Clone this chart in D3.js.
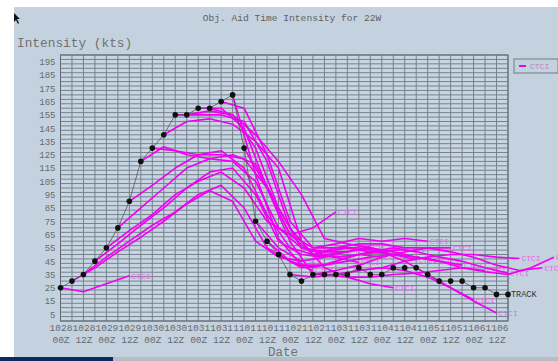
<!DOCTYPE html>
<html><head><meta charset="utf-8">
<script src="https://cdn.jsdelivr.net/npm/d3@7"></script>
<style>
html,body{margin:0;padding:0;background:#fff;}
svg{display:block;}
text{font-family:"Liberation Mono","DejaVu Sans Mono",monospace;}
</style></head><body>
<svg id="chart" width="558" height="361"></svg>
<script>
// Time axis: index counts 6-hour steps from 1028 00Z
const tickDays  = ["1028","1028","1029","1029","1030","1030","1031","1031","1101","1101",
                   "1102","1102","1103","1103","1104","1104","1105","1105","1106","1106"];
const tickHours = ["00Z","12Z","00Z","12Z","00Z","12Z","00Z","12Z","00Z","12Z",
                   "00Z","12Z","00Z","12Z","00Z","12Z","00Z","12Z","00Z","12Z"];
const yTicks = d3.range(5, 200, 10);

// Best track intensity (kts), every 6 h
const trackValues = [25,30,35,45,55,70,90,120,130,140,155,155,160,160,165,170,130,75,60,50,
                     35,30,35,35,35,35,40,35,35,40,40,40,35,30,30,30,25,25,20,20];

// CTCI forecasts: start index and intensity every 12 h
const ctciInit = [0,1,2,3,4,5,6,7,8,9,10,11,12,13,14,15,16,17,18,19,20,22,23];
const ctciValues = [
  [25,22,28,34],
  [30,40,52,63,75,88,98,90,60,48,45],
  [35,48,60,72,82,95,102,85,55,45,38],
  [45,58,72,85,100,112,115,95,60,50,48],
  [55,68,80,95,105,112,100,75,65,70,82],
  [70,85,100,115,122,120,105,70,55,52,52],
  [90,102,115,125,128,115,80,55,50,48,44],
  [120,131,125,122,125,118,85,55,50,52,56],
  [130,128,125,125,122,100,65,50,48,50,48],
  [140,150,152,148,135,115,60,40,33,28,25],
  [155,155,155,150,120,70,50,55,55,52,54],
  [155,158,155,140,120,95,62,58,55,50,46],
  [160,160,145,100,65,55,58,62,60,62,60],
  [160,155,130,85,55,52,55,52,50,48,45],
  [165,160,125,75,55,55,58,58,55,55,55],
  [170,110,62,42,42,45,48,50,48,45,42],
  [130,100,60,35,35,38,40,38,33,25,16],
  [75,55,45,48,52,55,52,48,45,40,38],
  [60,45,40,45,50,52,45,35,25,15,6],
  [50,40,42,48,52,55,52,48,45,40,36],
  [35,33,35,38,40,45,48,50,50,48,47],
  [35,38,42,48,52,55,52,48,42,38,40],
  [35,33,33,35,36,38,40,37,35,40,48]
];

const svg = d3.select("#chart");
const W = 558, H = 361;
const bg = "#c4d2e0";

// page frame
svg.append("rect").attr("width", W).attr("height", H).attr("fill", "#ffffff");
svg.append("rect").attr("x", 14).attr("y", 7).attr("width", W - 14).attr("height", 350).attr("fill", bg);
svg.append("rect").attr("x", 0).attr("y", 357).attr("width", 113).attr("height", 4).attr("fill", "#0d2a5c");
svg.append("rect").attr("x", 113).attr("y", 357).attr("width", W - 113).attr("height", 4).attr("fill", "#b9bcc2");
// pointer
svg.append("path").attr("d", "M14,13 L14,22 L16,20 L18,24 L19,23 L17,19 L20,19 Z").attr("fill", "#111");

const x = d3.scaleLinear().domain([0, 39]).range([60.5, 508]);
const y = d3.scaleLinear().domain([0, 200]).range([321, 55]);

const plot = svg.append("g");
plot.append("rect").attr("x", x(0)).attr("y", y(200)).attr("width", x(39) - x(0)).attr("height", y(0) - y(200))
  .attr("fill", "#c8d6e4");

// grid
const grid = plot.append("g").attr("stroke", "#76818c").attr("stroke-width", 1);
grid.selectAll("line.v").data(d3.range(0, 40)).join("line")
  .attr("x1", d => x(d)).attr("x2", d => x(d)).attr("y1", y(200)).attr("y2", y(0));
grid.selectAll("line.h").data(d3.range(0, 61)).join("line")
  .attr("x1", x(0)).attr("x2", x(39)).attr("y1", d => y(d * 10 / 3)).attr("y2", d => y(d * 10 / 3));
plot.append("rect").attr("x", x(0)).attr("y", y(200)).attr("width", x(39) - x(0)).attr("height", y(0) - y(200))
  .attr("fill", "none").attr("stroke", "#5e6873").attr("stroke-width", 1);

// axes
const yAxis = d3.axisLeft(y).tickValues(yTicks).tickSize(0).tickPadding(5);
const ya = svg.append("g").attr("transform", `translate(${x(0)},0)`).call(yAxis);
ya.select(".domain").remove();
ya.selectAll("text").attr("fill", "#6a6a6a").style("font-size", "9px").style("font-family", "Liberation Mono");

const xTickIdx = d3.range(0, 40, 2);
const xAxis = d3.axisBottom(x).tickValues(xTickIdx).tickSize(0).tickFormat(() => "");
const xa = svg.append("g").attr("transform", `translate(0,${y(0)})`).call(xAxis);
xa.select(".domain").remove();
xa.selectAll(".tick").each(function (d, i) {
  const g = d3.select(this);
  g.append("text").attr("y", 10).attr("text-anchor", "middle").attr("fill", "#6a6a6a")
    .style("font-size", "9.5px").text(tickDays[i]);
  g.append("text").attr("y", 22).attr("text-anchor", "middle").attr("fill", "#6a6a6a")
    .style("font-size", "9.5px").text(tickHours[i]);
});

// titles
svg.append("text").attr("x", 292).attr("y", 21).attr("text-anchor", "middle").attr("fill", "#606060")
  .style("font-size", "9.6px").text("Obj. Aid Time Intensity for 22W");
svg.append("text").attr("x", 17).attr("y", 47).attr("fill", "#707070")
  .style("font-size", "12.8px").text("Intensity (kts)");
svg.append("text").attr("x", 283).attr("y", 356).attr("text-anchor", "middle").attr("fill", "#707070")
  .style("font-size", "12.5px").text("Date");

// CTCI forecasts, each line followed by its end label
const line = d3.line().x(d => x(d[0])).y(d => y(d[1]));
const fc = ctciInit.map((t0, k) => ctciValues[k].map((v, i) => [t0 + 2 * i, v]));
const fg = svg.append("g");
fc.forEach(pts => {
  const end = pts[pts.length - 1];
  fg.append("path").datum(pts).attr("d", line).attr("fill", "none").attr("stroke", "#f000f0")
    .attr("stroke-width", 1.6).attr("stroke-linejoin", "round");
  fg.append("text").attr("x", x(end[0]) + 2).attr("y", y(end[1]) + 3)
    .attr("fill", "#e468e4").style("font-size", "8px").text("CTCI");
});

// best track
const track = trackValues.map((v, i) => [i, v]);
svg.append("path").datum(track).attr("d", line).attr("fill", "none").attr("stroke", "#555").attr("stroke-width", 0.8);
svg.append("g").selectAll("circle").data(track).join("circle")
  .attr("cx", d => x(d[0])).attr("cy", d => y(d[1])).attr("r", 2.8).attr("fill", "#111");
svg.append("text").attr("x", x(39) + 3).attr("y", y(20) + 3).attr("fill", "#333")
  .style("font-size", "8.5px").text("TRACK");

// legend
const lg = svg.append("g").attr("transform", "translate(514,59)");
lg.append("rect").attr("width", 44).attr("height", 14).attr("fill", bg).attr("stroke", "#707a84");
lg.append("line").attr("x1", 5).attr("x2", 12).attr("y1", 7).attr("y2", 7).attr("stroke", "#f000f0").attr("stroke-width", 2);
lg.append("text").attr("x", 16).attr("y", 10).attr("fill", "#c080c0").style("font-size", "8px").text("CTCI");
</script>
</body></html>
